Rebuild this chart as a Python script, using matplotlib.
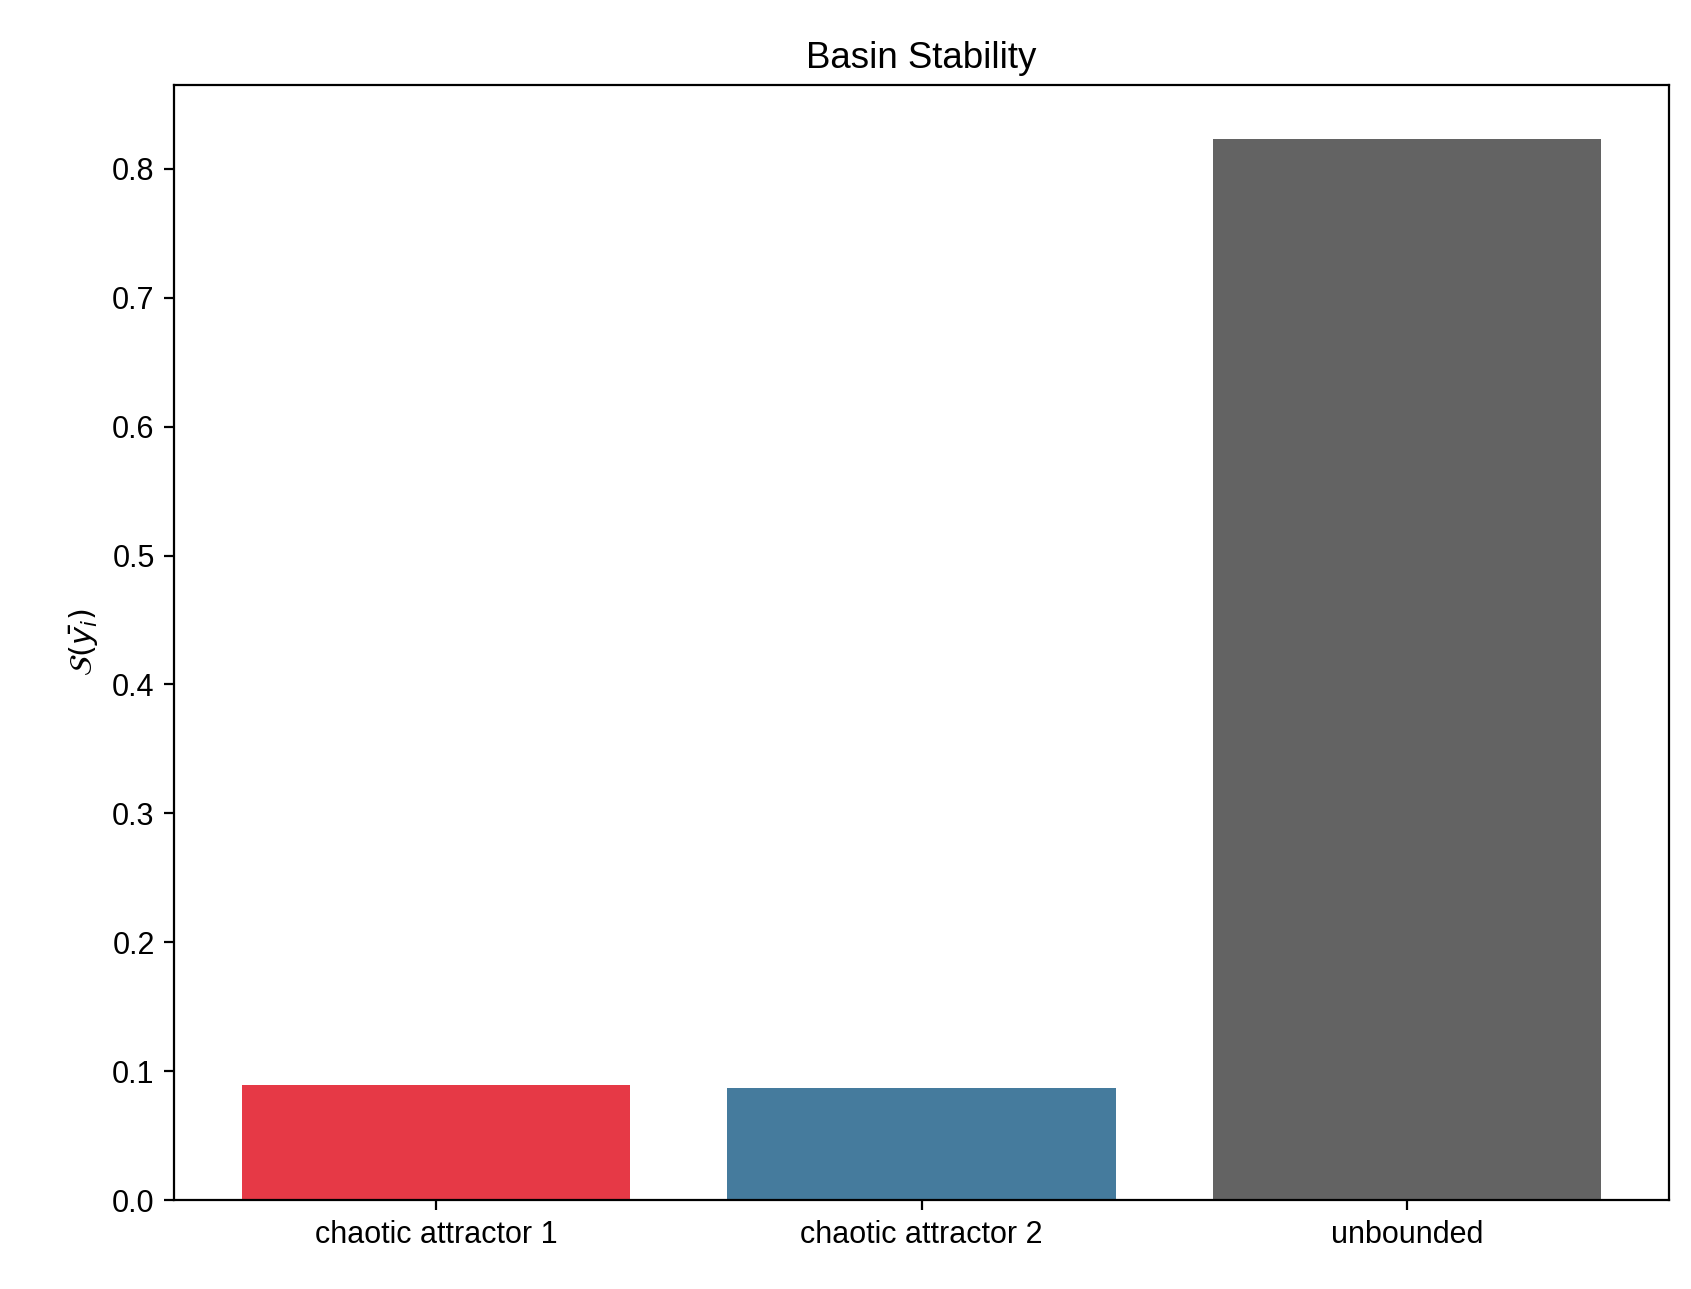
import matplotlib
matplotlib.use("Agg")
import matplotlib.pyplot as plt

categories = ["chaotic attractor 1", "chaotic attractor 2", "unbounded"]
values = [0.089, 0.087, 0.823]
colors = ["#E63946", "#457B9D", "#636363"]

plt.rcParams['font.family'] = ['Liberation Sans', 'DejaVu Sans']
plt.rcParams['font.size'] = 11

fig = plt.figure(figsize=(1691 / 200, 1289 / 200), dpi=200)
ax = fig.add_axes([0.103, 0.069, 0.884, 0.865])
ax.bar(categories, values, color=colors, width=0.8)
ax.set_ylim(0, 0.865)
ax.set_title("Basin Stability")
ax.set_ylabel(r"$\mathcal{S}(\bar{y_i})$")

fig.savefig("out.png", dpi=200)
